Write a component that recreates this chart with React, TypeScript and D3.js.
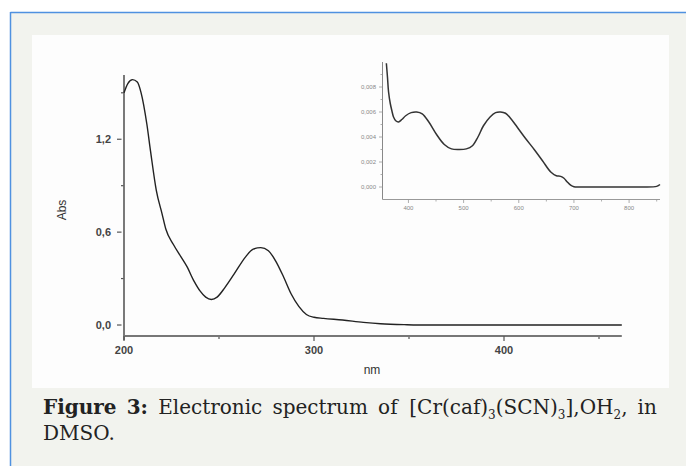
import React, { useEffect, useRef } from "react";
import * as d3 from "d3";

// ---- Main spectrum data (nm, Abs) ----
const mainNm = [200, 202, 204.5, 207, 209, 212, 214, 217, 220, 222, 226, 230, 233, 237, 240, 243, 246, 249, 253, 258, 264, 268, 272, 276, 280, 284, 288, 292, 296, 300, 305, 315, 326, 335, 349, 360, 400, 462];
const mainAbs = [1.50, 1.56, 1.585, 1.57, 1.50, 1.30, 1.12, 0.87, 0.72, 0.62, 0.52, 0.44, 0.38, 0.28, 0.22, 0.18, 0.165, 0.18, 0.24, 0.33, 0.44, 0.49, 0.50, 0.48, 0.41, 0.31, 0.20, 0.12, 0.068, 0.05, 0.043, 0.032, 0.017, 0.008, 0.002, 0.0, 0.0, 0.0];

const mainYTicks = [0, 0.6, 1.2];
const mainYMinor = [0.3, 0.9, 1.5];
const mainXTicks = [200, 300, 400];
const mainXMinor = [250, 350, 450];

// ---- Inset data (nm, Abs) ----
const insetNm = [360, 362, 364, 367, 370, 373, 377, 382, 388, 395, 405, 415, 425, 437, 451, 465, 478, 492, 505, 516, 526, 536, 548, 558, 567, 576, 585, 597, 612, 628, 643, 658, 668, 676, 682, 688, 694, 700, 712, 760, 820, 850, 856];
const insetAbs = [0.0099, 0.0088, 0.0076, 0.0067, 0.0061, 0.0056, 0.0053, 0.0052, 0.0054, 0.0057, 0.00595, 0.0060, 0.00585, 0.0052, 0.0042, 0.0034, 0.00305, 0.0030, 0.00305, 0.0033, 0.0040, 0.0049, 0.0056, 0.00595, 0.0060, 0.0059, 0.0055, 0.0048, 0.0039, 0.0030, 0.0021, 0.0012, 0.0009, 0.00085, 0.0007, 0.0004, 0.00015, 0.00002, 0.0, 0.0, 0.0, 0.00005, 0.0002];

const insetYTicks = [0, 0.002, 0.004, 0.006, 0.008];
const insetYMinor = [0.001, 0.003, 0.005, 0.007, 0.009];
const insetXTicks = [400, 500, 600, 700, 800];
const insetXMinor = [450, 550, 650, 750, 850];

const mainXLabel = "nm";
const mainYLabel = "Abs";

const W = 686;
const H = 466;

export default function App() {
  const ref = useRef<SVGSVGElement | null>(null);

  useEffect(() => {
    const svg = d3.select(ref.current);
    svg.selectAll("*").remove();

    // background frame
    svg.append("rect").attr("x", 0).attr("y", 0).attr("width", W).attr("height", H).attr("fill", "#ffffff");
    svg.append("rect").attr("x", 10).attr("y", 12.5).attr("width", W - 10).attr("height", H - 12.5).attr("fill", "#f2f3ee");
    svg.append("line").attr("x1", 10.5).attr("x2", W).attr("y1", 12.5).attr("y2", 12.5).attr("stroke", "#4f91e0").attr("stroke-width", 1.5);
    svg.append("line").attr("x1", 10.5).attr("x2", 10.5).attr("y1", 12).attr("y2", H).attr("stroke", "#4f91e0").attr("stroke-width", 1.5);
    svg.append("rect").attr("x", 32).attr("y", 35).attr("width", 637).attr("height", 353).attr("fill", "#fdfdfd");

    const fmtComma = (f: string) => (v: number) => d3.format(f)(v).replace(".", ",");

    // ---- main chart ----
    const x = d3.scaleLinear().domain([200, 462]).range([124, 621.8]);
    const y = d3.scaleLinear().domain([-0.071, 1.615]).range([336, 75]);
    const g = svg.append("g");

    g.append("line").attr("x1", x(200)).attr("x2", x(200)).attr("y1", y(1.615)).attr("y2", 340).attr("stroke", "#333").attr("stroke-width", 1.3);
    g.append("line").attr("x1", x(200)).attr("x2", x(462)).attr("y1", 336).attr("y2", 336).attr("stroke", "#777").attr("stroke-width", 2);

    mainYTicks.forEach((t) => {
      g.append("line").attr("x1", 117).attr("x2", 121.5).attr("y1", y(t)).attr("y2", y(t)).attr("stroke", "#555").attr("stroke-width", 1.2);
      g.append("text").attr("x", 111).attr("y", y(t)).attr("dy", "0.35em").attr("text-anchor", "end")
        .attr("font-family", "Liberation Sans, Arial, sans-serif").attr("font-size", 11).attr("font-weight", "bold").attr("fill", "#444")
        .text(fmtComma(".1f")(t));
    });
    mainYMinor.forEach((t) => {
      g.append("line").attr("x1", 121).attr("x2", 123.5).attr("y1", y(t)).attr("y2", y(t)).attr("stroke", "#555").attr("stroke-width", 1.2);
    });
    mainXTicks.forEach((t) => {
      g.append("line").attr("x1", x(t)).attr("x2", x(t)).attr("y1", 336).attr("y2", 341).attr("stroke", "#555").attr("stroke-width", 1.2);
      g.append("text").attr("x", x(t)).attr("y", 350).attr("dy", "0.35em").attr("text-anchor", "middle")
        .attr("font-family", "Liberation Sans, Arial, sans-serif").attr("font-size", 11).attr("font-weight", "bold").attr("fill", "#444")
        .text(String(t));
    });
    mainXMinor.forEach((t) => {
      g.append("line").attr("x1", x(t)).attr("x2", x(t)).attr("y1", 337).attr("y2", 339).attr("stroke", "#555").attr("stroke-width", 1.2);
    });
    g.append("text").attr("x", 372).attr("y", 370).attr("dy", "0.35em").attr("text-anchor", "middle")
      .attr("font-family", "Liberation Sans, Arial, sans-serif").attr("font-size", 12).attr("fill", "#333").text(mainXLabel);
    g.append("text").attr("transform", "translate(62,210) rotate(-90)").attr("dy", "0.35em").attr("text-anchor", "middle")
      .attr("font-family", "Liberation Sans, Arial, sans-serif").attr("font-size", 12).attr("fill", "#333").text(mainYLabel);

    const mainLine = d3.line<number>().x((_, i) => x(mainNm[i])).y((d) => y(d)).curve(d3.curveMonotoneX);
    g.append("path").attr("d", mainLine(mainAbs) as string).attr("fill", "none").attr("stroke", "#222").attr("stroke-width", 1.4);

    // ---- inset ----
    const xi = d3.scaleLinear().domain([353, 856]).range([382.5, 660]);
    const yi = d3.scaleLinear().domain([-0.001, 0.010]).range([199.5, 62]);
    const gi = svg.append("g");
    gi.append("line").attr("x1", 382.5).attr("x2", 382.5).attr("y1", 62).attr("y2", 199.5).attr("stroke", "#888").attr("stroke-width", 1);
    gi.append("line").attr("x1", 382.5).attr("x2", 660).attr("y1", 199.5).attr("y2", 199.5).attr("stroke", "#999").attr("stroke-width", 1);
    insetYTicks.forEach((t) => {
      gi.append("line").attr("x1", 379).attr("x2", 382.5).attr("y1", yi(t)).attr("y2", yi(t)).attr("stroke", "#999").attr("stroke-width", 0.8);
      gi.append("text").attr("x", 376).attr("y", yi(t)).attr("dy", "0.35em").attr("text-anchor", "end")
        .attr("font-family", "Liberation Sans, Arial, sans-serif").attr("font-size", 6).attr("fill", "#888")
        .text(fmtComma(".3f")(t));
    });
    insetYMinor.forEach((t) => {
      gi.append("line").attr("x1", 380.5).attr("x2", 382.5).attr("y1", yi(t)).attr("y2", yi(t)).attr("stroke", "#999").attr("stroke-width", 0.8);
    });
    insetXTicks.forEach((t) => {
      gi.append("line").attr("x1", xi(t)).attr("x2", xi(t)).attr("y1", 199.5).attr("y2", 203).attr("stroke", "#999").attr("stroke-width", 0.8);
      gi.append("text").attr("x", xi(t)).attr("y", 207.5).attr("dy", "0.35em").attr("text-anchor", "middle")
        .attr("font-family", "Liberation Sans, Arial, sans-serif").attr("font-size", 6).attr("fill", "#888")
        .text(String(t));
    });
    insetXMinor.forEach((t) => {
      gi.append("line").attr("x1", xi(t)).attr("x2", xi(t)).attr("y1", 199.5).attr("y2", 201.5).attr("stroke", "#999").attr("stroke-width", 0.8);
    });
    const insetLine = d3.line<number>().x((_, i) => xi(insetNm[i])).y((d) => yi(d)).curve(d3.curveCatmullRom.alpha(0.5));
    gi.append("path").attr("d", insetLine(insetAbs) as string).attr("fill", "none").attr("stroke", "#333").attr("stroke-width", 1.5);

    // ---- caption (justified first line) ----
    const capFont = "DejaVu Serif, serif";
    const capSize = 20;
    const left = 43;
    const right = 657;
    const base1 = 414;
    const base2 = 440;
    type Seg = { t: string; sub?: boolean; bold?: boolean };
    const words: Seg[][] = [
      [{ t: "Figure", bold: true }],
      [{ t: "3:", bold: true }],
      [{ t: "Electronic" }],
      [{ t: "spectrum" }],
      [{ t: "of" }],
      [{ t: "[Cr(caf)" }, { t: "3", sub: true }, { t: "(SCN)" }, { t: "3", sub: true }, { t: "],OH" }, { t: "2", sub: true }, { t: "," }],
      [{ t: "in" }],
    ];
    const nodes: any[] = [];
    words.forEach((segs) => {
      const tx = svg.append("text").attr("x", left).attr("y", base1)
        .attr("font-family", capFont).attr("font-size", capSize).attr("fill", "#222");
      segs.forEach((s, k) => {
        const ts = tx.append("tspan").text(s.t);
        if (s.bold) ts.attr("font-weight", "bold");
        if (s.sub) ts.attr("font-size", 12).attr("dy", 5);
        else if (k > 0 && segs[k - 1].sub) ts.attr("dy", -5);
      });
      nodes.push(tx);
    });
    const widths = nodes.map((n) => (n.node() as SVGTextElement).getBBox().width);
    const total = widths.reduce((a, b) => a + b, 0);
    const gap = (right - left - total) / (nodes.length - 1);
    let cx = left;
    nodes.forEach((n, i) => {
      n.attr("x", cx);
      cx += widths[i] + gap;
    });
    svg.append("text").attr("x", left).attr("y", base2)
      .attr("font-family", capFont).attr("font-size", capSize).attr("fill", "#222").text("DMSO.");
  }, []);

  return (
    <svg ref={ref} width={W} height={H} style={{ position: "absolute", left: 0, top: 0, display: "block" }} />
  );
}
